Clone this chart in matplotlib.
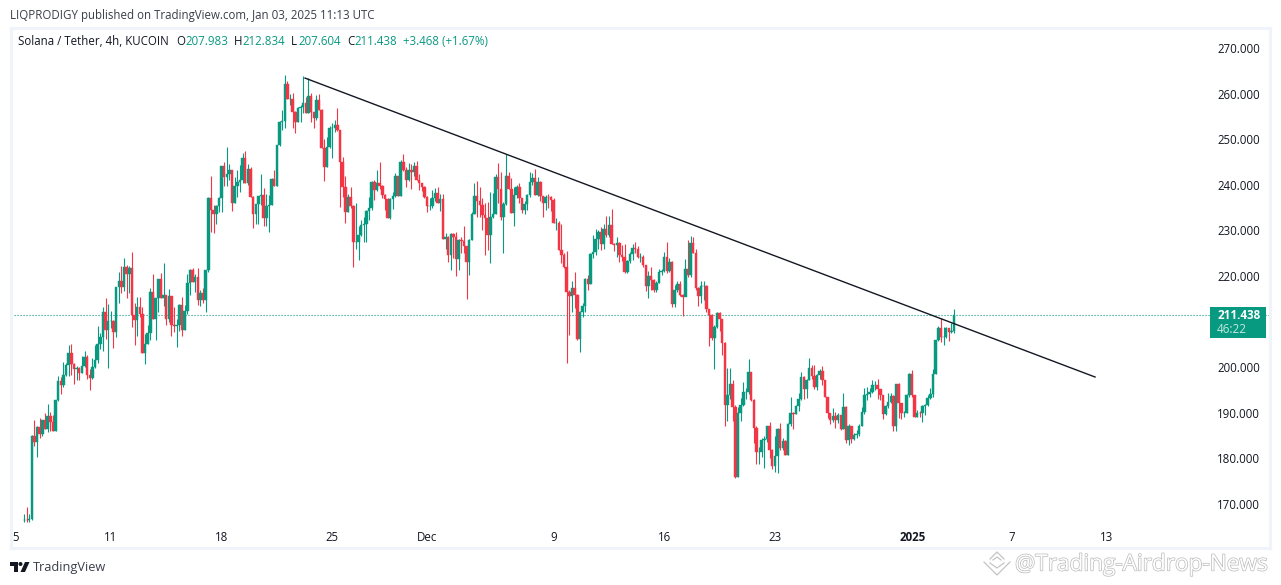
import matplotlib
matplotlib.use("Agg")
import matplotlib.pyplot as plt
import matplotlib.patheffects as pe
from matplotlib.patches import Polygon, Circle, Rectangle
import numpy as np

plt.rcParams['font.family'] = ['Open Sans', 'DejaVu Sans']

# 4h candles, index counted from Nov 5 00:00, first candle is bar 3
first_bar = 3
first_open = 166.5

closes = [
    166.6,166.4,166.7,185.0,183.6,186.8,185.3,188.4,186.5,189.2,
    188.0,186.0,192.8,197.0,196.2,198.3,200.5,203.1,200.7,199.5,
    199.8,198.7,200.3,202.2,198.3,197.6,200.0,201.6,205.1,206.7,
    212.1,208.2,210.1,210.1,207.7,217.6,218.9,217.6,222.0,220.4,
    221.8,211.5,210.4,213.2,211.7,203.1,205.1,207.5,216.5,210.6,
    215.2,219.3,215.2,215.8,210.6,215.6,209.3,209.1,209.3,213.6,
    208.2,212.3,218.5,221.3,218.7,219.8,214.7,216.3,214.7,221.3,
    237.1,234.5,233.6,235.4,237.1,244.1,241.8,242.4,243.3,236.1,
    239.7,240.6,241.0,245.8,240.3,243.5,237.4,233.6,235.8,237.5,
    237.7,232.7,235.4,235.6,241.3,239.8,248.7,253.8,254.0,262.1,
    258.9,258.9,256.0,253.8,256.8,257.0,258.0,255.8,259.5,256.0,
    254.7,258.5,256.4,248.1,244.0,248.2,252.4,252.4,253.1,252.0,
    244.9,239.5,234.0,237.4,235.4,227.5,227.5,229.0,231.2,231.4,
    234.2,234.9,240.6,238.9,240.3,239.8,237.8,236.8,232.8,236.8,
    237.5,241.9,237.5,245.0,243.3,241.0,243.3,242.7,244.1,241.0,
    240.5,239.6,237.4,235.4,235.4,237.0,238.3,236.0,236.8,228.2,
    228.6,224.6,229.2,228.6,223.7,227.9,227.7,226.6,223.1,228.0,
    233.7,237.5,236.4,235.6,233.4,232.8,229.0,232.9,233.7,241.8,
    239.0,233.0,235.8,241.9,239.0,233.9,237.8,239.6,237.0,234.5,
    235.8,237.7,240.7,241.5,237.7,240.6,237.5,236.0,237.4,237.3,
    236.7,231.7,231.7,225.7,224.5,222.0,216.5,215.6,217.3,215.8,
    206.2,212.1,213.5,219.3,218.2,224.8,225.2,228.2,229.6,227.0,
    230.2,229.0,231.2,227.0,226.7,227.3,224.6,224.2,220.9,223.3,
    224.8,226.2,226.0,224.2,224.2,222.4,217.8,220.0,219.1,217.0,
    218.4,220.9,221.1,224.2,221.2,223.1,213.9,217.0,218.2,215.8,
    215.3,221.5,220.2,227.3,225.0,217.3,215.6,217.8,217.8,212.7,
    211.5,206.3,208.9,211.8,210.5,205.4,191.8,193.9,196.3,191.3,
    176.0,190.0,191.7,194.5,194.5,198.9,192.8,186.6,181.5,181.5,
    184.0,184.2,187.0,181.9,178.3,180.5,186.4,182.2,183.9,180.8,
    187.6,190.0,189.8,191.4,193.0,197.8,195.2,197.2,199.8,198.1,
    195.6,198.3,199.2,197.3,193.4,189.9,188.4,189.3,188.4,189.5,
    186.4,191.3,184.0,187.0,184.2,185.1,185.4,187.2,190.2,193.9,
    194.2,194.6,196.1,196.2,195.2,194.0,189.8,191.5,192.4,193.7,
    187.1,196.3,192.1,190.0,190.0,193.9,198.5,193.9,189.1,190.0,
    189.9,191.5,191.8,193.2,194.1,198.5,206.0,208.7,206.7,206.7,
    208.5,207.8,207.98,211.438,
]

highs = [
    167.9,169.4,167.8,185.2,188.4,187.0,188.9,188.4,190.0,191.9,
    190.2,189.5,192.9,198.0,197.8,201.1,201.0,204.9,205.1,201.0,
    200.3,200.0,202.5,203.6,202.7,199.6,202.0,204.9,209.0,207.4,
    213.1,215.1,213.9,212.3,210.3,217.6,220.9,222.2,224.0,222.4,
    222.1,225.3,214.0,215.4,215.4,213.2,207.3,209.2,217.4,220.4,
    215.2,219.3,220.7,222.9,215.8,217.2,215.6,213.2,210.6,213.9,
    215.4,213.6,220.4,221.6,221.7,220.5,221.7,217.0,217.4,221.4,
    237.3,241.9,235.6,235.6,237.3,244.1,245.0,248.2,244.6,243.3,
    241.8,243.3,244.4,247.0,247.4,244.5,244.0,237.5,235.8,237.5,
    242.4,239.2,238.0,237.8,241.5,243.2,248.7,253.9,256.4,264.1,
    262.8,260.0,260.2,256.1,257.0,257.5,263.9,259.2,263.4,260.2,
    255.7,259.7,259.9,256.6,250.0,250.5,252.8,253.5,254.2,256.8,
    252.0,246.0,241.9,238.0,239.5,235.6,236.0,231.0,232.3,233.0,
    234.5,237.4,240.9,241.1,243.2,245.0,240.0,238.0,237.0,237.0,
    238.5,242.5,242.0,245.5,246.8,244.0,244.8,244.6,244.9,245.3,
    242.3,240.3,239.7,237.5,237.0,238.9,239.2,239.5,237.9,238.0,
    229.5,228.8,229.4,229.5,229.6,228.2,228.5,231.0,226.4,228.2,
    234.0,240.3,240.8,239.6,237.2,236.0,236.2,238.5,238.3,242.4,
    244.8,242.7,236.2,246.7,242.8,241.4,239.5,240.0,240.5,237.2,
    236.5,238.0,242.9,242.5,243.4,241.7,240.9,237.6,237.8,238.0,
    237.6,237.0,232.8,232.0,231.5,225.0,225.5,217.0,219.0,220.9,
    216.0,212.3,214.0,219.5,220.2,225.0,229.0,230.2,230.0,230.7,
    231.5,233.1,233.1,234.6,227.2,228.5,227.5,226.9,227.1,223.6,
    225.2,227.1,227.5,226.6,225.0,224.5,222.4,221.0,221.9,219.3,
    219.0,221.5,221.6,225.3,227.4,224.0,223.3,218.0,219.0,218.8,
    216.0,223.7,227.9,228.8,228.5,226.0,217.5,218.8,218.8,218.0,
    212.8,211.7,209.2,212.1,212.0,210.6,205.6,199.8,199.8,197.2,
    191.8,191.3,193.3,196.8,195.5,201.9,198.9,193.0,187.0,182.5,
    184.5,185.0,187.2,188.0,182.0,185.0,186.6,187.7,184.5,184.0,
    187.7,193.4,190.2,191.8,194.3,199.0,198.0,197.5,202.0,200.5,
    200.5,198.6,199.5,200.3,197.3,193.5,189.9,191.0,190.2,190.0,
    189.6,194.3,191.5,187.5,187.1,185.6,186.2,187.5,191.3,195.4,
    195.7,195.5,197.3,197.0,197.5,195.3,193.0,191.8,194.3,194.4,
    193.8,196.4,196.6,192.2,190.5,194.1,198.8,199.4,194.0,190.6,
    190.4,191.8,192.0,193.9,195.4,199.5,206.0,209.0,210.7,208.9,
    208.8,208.4,209.8,212.834,
]

lows = [
    166.0,166.1,166.0,166.4,182.7,180.4,184.4,184.9,186.5,185.8,
    186.0,186.0,186.0,192.6,194.1,195.7,198.0,198.0,198.3,196.3,
    197.2,197.2,198.7,200.0,197.4,195.0,197.5,199.8,201.0,204.0,
    203.6,206.2,199.8,208.5,204.2,206.6,214.1,216.3,216.7,215.2,
    216.3,208.8,204.9,206.8,211.0,203.1,200.7,205.0,205.9,210.6,
    206.0,212.1,215.2,213.4,209.2,209.9,206.9,207.7,204.4,208.0,
    206.8,208.2,211.7,215.8,218.6,216.6,213.6,213.4,214.1,212.2,
    220.8,229.6,229.5,231.4,234.1,234.1,239.7,239.7,241.0,234.3,
    236.0,237.4,238.5,240.5,240.3,240.0,237.4,230.6,231.4,231.4,
    235.6,231.0,231.0,229.7,235.5,239.8,239.8,248.5,252.0,252.4,
    258.9,257.5,252.4,251.4,253.8,253.7,255.8,255.8,255.7,253.8,
    252.4,254.2,256.4,248.0,240.9,244.0,248.0,245.8,251.5,251.9,
    235.2,237.4,231.6,234.0,235.0,222.0,226.0,223.4,228.7,227.5,
    227.5,232.3,234.5,236.7,238.7,239.0,237.0,234.5,232.8,232.5,
    234.6,237.4,237.5,237.5,243.0,239.6,240.8,239.0,242.0,241.0,
    238.9,238.7,237.2,234.1,234.5,235.0,236.5,235.9,234.3,228.2,
    226.0,223.1,221.4,224.0,220.0,221.3,225.0,225.0,215.0,220.3,
    227.8,233.5,233.0,233.0,230.0,224.6,225.7,222.9,232.8,233.5,
    235.9,232.3,225.1,235.6,239.0,233.9,231.0,237.0,236.0,233.8,
    233.7,234.5,237.3,240.0,237.7,237.5,236.5,233.0,234.5,235.0,
    234.3,231.7,230.0,225.7,222.9,221.8,201.0,207.0,212.2,213.0,
    206.0,203.4,211.0,212.0,217.0,218.2,224.0,224.5,226.0,225.7,
    226.0,228.5,228.5,227.0,225.5,224.2,223.0,223.3,220.7,220.6,
    222.9,223.5,225.0,224.0,223.0,221.9,216.8,215.2,216.9,216.4,
    216.5,218.4,220.2,220.9,220.6,220.8,213.2,213.2,216.5,215.6,
    211.3,215.6,219.8,219.8,225.0,217.0,213.4,214.0,214.7,212.0,
    204.7,206.0,199.5,208.5,208.0,202.6,187.2,188.1,193.0,188.3,
    175.6,176.0,188.3,191.5,193.0,194.2,192.5,183.3,178.7,178.7,
    180.4,178.0,183.5,180.0,177.6,177.1,176.7,181.9,181.8,180.7,
    180.8,187.0,186.4,189.7,190.5,192.9,193.1,193.3,197.2,197.5,
    195.2,195.1,197.5,196.0,193.4,188.9,187.5,187.9,186.6,187.7,
    186.3,186.4,183.4,182.9,183.3,184.0,184.5,184.9,187.0,189.8,
    192.8,193.5,194.4,195.0,193.0,192.7,188.6,189.6,191.0,192.2,
    186.0,186.0,188.9,188.7,189.0,189.9,193.5,193.5,189.0,189.1,
    189.0,188.0,189.5,191.5,193.0,193.5,198.4,205.8,205.6,204.9,
    206.5,205.8,207.5,207.604,
]

price_ticks = [170, 180, 190, 200, 210, 220, 230, 240, 250, 260, 270]
price_tick_labels = ["170.000", "180.000", "190.000", "200.000", "", "220.000",
                     "230.000", "240.000", "250.000", "260.000", "270.000"]
date_ticks = [0, 36, 78, 120, 156, 204, 246, 288, 340.4, 378, 414]
date_labels = ["5", "11", "18", "25", "Dec", "9", "16", "23", "2025", "7", "13"]

trend_bars = [109.7, 409.5]
trend_prices = [263.4, 197.85]
last_price = 211.438

GREEN = "#089981"
RED = "#F23645"
TEXT = "#131722"
FRAME = "#F0F3FA"

W, H = 1281, 585
fig = plt.figure(figsize=(W / 100, H / 100), dpi=100, facecolor="white")

# chart pane, placed by pixels
left, right, top, bottom = 11, 1270, 28, 548
ax = fig.add_axes([left / W, 1 - bottom / H, (right - left) / W, (bottom - top) / H])
ax.set_xlim((left - 16) / 2.635, (right - 16) / 2.635)
ax.set_ylim(270 - (bottom - 48) / 4.56, 270 - (top - 48) / 4.56)
for s in ax.spines.values():
    s.set_color(FRAME)
    s.set_linewidth(2.2)

c = np.array(closes)
o = np.r_[first_open, c[:-1]]
x = first_bar + np.arange(len(c))
colors = [GREEN if b >= a else RED for a, b in zip(o, c)]

ax.vlines(x, lows, highs, colors=colors, linewidth=0.8, zorder=2)
ax.bar(x, np.abs(c - o), bottom=np.minimum(o, c), width=0.95, color=colors,
       edgecolor=colors, linewidth=0.3, zorder=3)

ax.axhline(last_price, color=GREEN, linewidth=0.8, linestyle=(0, (1, 1.7)), zorder=1)
ax.plot(trend_bars, trend_prices, color=TEXT, linewidth=1.0, zorder=4)

ax.yaxis.tick_right()
ax.set_yticks(price_ticks, price_tick_labels)
ax.set_xticks(date_ticks, date_labels)
ax.tick_params(axis='y', length=0, pad=-38, labelsize=8.3, labelcolor=TEXT)
ax.tick_params(axis='x', length=0, pad=-12.5, labelsize=8.3, labelcolor=TEXT)
ax.get_xticklabels()[8].set_fontweight("bold")

# overlay in pixel coordinates for header, price label and logos
ov = fig.add_axes([0, 0, 1, 1], facecolor="none")
ov.set_xlim(0, W)
ov.set_ylim(H, 0)
ov.axis("off")

ov.text(10, 15, "LIQPRODIGY published on TradingView.com, Jan 03, 2025 11:13 UTC",
        fontsize=8.3, color="#3a3e4a", va="center")

ov.text(18, 41.5, "Solana / Tether, 4h, KUCOIN", fontsize=8.3, color=TEXT, va="center")
for lx, lab, vx, val in [(176, "O", 185, "207.983"), (234, "H", 242, "212.834"),
                         (291, "L", 298, "207.604"), (347, "C", 354, "211.438")]:
    ov.text(lx, 41.5, lab, fontsize=8.3, color=TEXT, va="center")
    ov.text(vx, 41.5, val, fontsize=8.3, color=GREEN, va="center")
ov.text(403, 41.5, "+3.468 (+1.67%)", fontsize=8.3, color=GREEN, va="center")

# last price tag
ov.add_patch(Rectangle((1210, 307), 56, 31, facecolor=GREEN, edgecolor="none", zorder=5))
ov.text(1239, 315.5, "211.438", fontsize=8.4, color="white", fontweight="bold",
        ha="center", va="center", zorder=6)
ov.text(1232, 329.5, "46:22", fontsize=8.4, color="#c6e8e1", ha="center", va="center", zorder=6)

# TradingView logo
ov.add_patch(Polygon([(10, 562), (18, 562), (18, 572), (14, 572), (14, 566), (10, 566)],
                     facecolor=TEXT, edgecolor="none"))
ov.add_patch(Circle((20.5, 564), 2, facecolor=TEXT, edgecolor="none"))
ov.add_patch(Polygon([(25, 562), (29.5, 562), (25, 572), (20.5, 572)],
                     facecolor=TEXT, edgecolor="none"))
ov.text(33, 567.5, "TradingView", fontsize=9.2, color="#3a3e4a", va="center")

# watermark
ov.text(1015, 564.5, "@Trading-Airdrop-News", fontsize=16.3, color="white", va="center",
        path_effects=[pe.withStroke(linewidth=1.0, foreground="#b9b9b9")], zorder=6)
wm = "#c4c4c4"
ov.plot([984, 997, 1010], [562, 575, 562], color=wm, linewidth=0.9)
ov.plot([990, 997, 1004], [559, 552, 559], color=wm, linewidth=0.9)
ov.plot([990, 997, 1004], [563, 568, 563], color=wm, linewidth=0.9)
ov.plot([993, 997, 1001], [560, 557, 560], color=wm, linewidth=0.9)

fig.savefig("out.png", dpi=100, facecolor="white")
